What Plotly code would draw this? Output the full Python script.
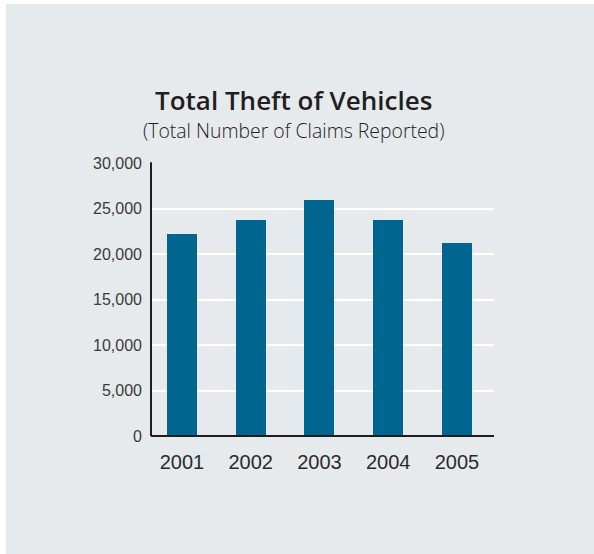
import plotly.graph_objects as go

# Reported vehicle theft claims by year
years = ["2001", "2002", "2003", "2004", "2005"]
claims = [22200, 23700, 25900, 23700, 21200]
y_ticks = [0, 5000, 10000, 15000, 20000, 25000, 30000]
y_tick_text = ["0", "5,000", "10,000", "15,000", "20,000", "25,000", "30,000"]

W, H = 594, 554
L, R, T, B = 151, 100, 163, 118
pw, ph = W - L - R, H - T - B

BG = "#e7eaed"
BAR = "#00658f"
TXT = "#2b2b2b"

xs = list(range(len(years)))

fig = go.Figure(go.Bar(
    x=xs, y=claims, width=0.437,
    marker=dict(color=BAR, line=dict(width=0)),
    hoverinfo="skip",
))

fig.update_layout(
    width=W, height=H,
    margin=dict(l=L, r=R, t=T, b=B, pad=0),
    paper_bgcolor="white",
    plot_bgcolor="rgba(0,0,0,0)",
    showlegend=False,
    bargap=0,
    xaxis=dict(
        range=[-0.45, 4.54], tickvals=xs, ticktext=years,
        showgrid=False, zeroline=False, showline=False,
        ticks="", tickfont=dict(family="Liberation Sans, Arial", size=20, color=TXT),
        ticklabelstandoff=12,
    ),
    yaxis=dict(
        range=[0, 30000], tickvals=y_ticks, ticktext=y_tick_text,
        showgrid=True, gridcolor="white", gridwidth=1.5,
        zeroline=False, showline=False, ticks="",
        tickfont=dict(family="Liberation Sans, Arial", size=16, color="#3a3a3a"),
        ticklabelstandoff=8,
    ),
    shapes=[
        # grey panel behind the chart
        dict(type="rect", xref="paper", yref="paper", layer="below",
             x0=(6 - L) / pw, x1=(W - L) / pw,
             y0=-(H - T - ph) / ph, y1=(ph + T - 4) / ph,
             fillcolor=BG, line=dict(width=0)),
        # y axis line
        dict(type="line", xref="paper", yref="paper",
             x0=0, x1=0, y0=0, y1=1.003, line=dict(color="#1e1e1e", width=2)),
        # baseline
        dict(type="line", xref="paper", yref="paper",
             x0=0, x1=1, y0=0, y1=0, line=dict(color="#1e1e1e", width=2)),
    ],
    annotations=[
        dict(text="Total Theft of Vehicles", xref="paper", yref="paper",
             x=(293 - L) / pw, y=(H - B - 100.5) / ph, showarrow=False,
             xanchor="center", yanchor="middle",
             font=dict(family="Open Sans, Liberation Sans", size=26, weight=600,
                       color="#1f1f1f")),
        dict(text="(Total Number of Claims Reported)", xref="paper", yref="paper",
             x=(293 - L) / pw, y=(H - B - 130.5) / ph, showarrow=False,
             xanchor="center", yanchor="middle",
             font=dict(family="Open Sans, Liberation Sans", size=19.4, weight=300,
                       color="#222222")),
    ],
)

fig.write_html("out.html")
